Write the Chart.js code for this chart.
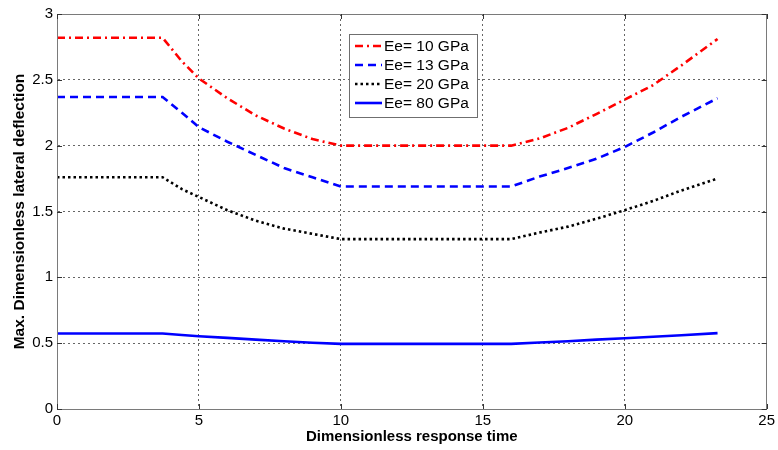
<!DOCTYPE html>
<html>
<head>
<meta charset="utf-8">
<script src="https://cdn.jsdelivr.net/npm/chart.js@4/dist/chart.umd.min.js"></script>
<style>
  html, body { margin: 0; padding: 0; background: #fff; }
  #wrap { width: 778px; height: 450px; }
</style>
</head>
<body>
<div id="wrap"><canvas id="c" width="778" height="450"></canvas></div>
<script>
// ---- data ----
const timeValues = [0, 3.72, 4.4, 5, 6, 7, 8, 9, 10, 16, 17, 18, 19, 20, 21, 22, 23.27];
const ee10 = [2.82, 2.82, 2.64, 2.51, 2.36, 2.23, 2.13, 2.05, 2.0, 2.0, 2.055, 2.135, 2.24, 2.35, 2.46, 2.61, 2.81];
const ee13 = [2.37, 2.37, 2.25, 2.14, 2.03, 1.93, 1.83, 1.76, 1.69, 1.69, 1.765, 1.83, 1.90, 1.99, 2.10, 2.22, 2.36];
const ee20 = [1.76, 1.76, 1.67, 1.61, 1.51, 1.43, 1.37, 1.33, 1.29, 1.29, 1.34, 1.385, 1.445, 1.51, 1.58, 1.66, 1.75];
const ee80 = [0.573, 0.573, 0.562, 0.553, 0.54, 0.527, 0.515, 0.503, 0.495, 0.495, 0.505, 0.515, 0.527, 0.537, 0.549, 0.56, 0.576];
const seriesLabels = ['Ee= 10 GPa', 'Ee= 13 GPa', 'Ee= 20 GPa', 'Ee= 80 GPa'];
const xTickLabels = ['0', '5', '10', '15', '20', '25'];
const yTickLabels = ['0', '0.5', '1', '1.5', '2', '2.5', '3'];
const xTitle = 'Dimensionless response time';
const yTitle = 'Max. Dimensionless lateral deflection';

const toPts = (ys) => timeValues.map((x, i) => ({ x: x, y: ys[i] }));

const FONT = 'Liberation Sans, Arial, Helvetica, sans-serif';

const styles = [
  { color: '#ff0000', dash: [8, 4, 2, 4] },
  { color: '#0000ff', dash: [8, 5] },
  { color: '#000000', dash: [2.5, 3] },
  { color: '#0000ff', dash: [] }
];
const seriesData = [ee10, ee13, ee20, ee80];

const datasets = seriesData.map((ys, i) => ({
  label: seriesLabels[i],
  data: toPts(ys),
  borderColor: styles[i].color,
  backgroundColor: styles[i].color,
  borderDash: styles[i].dash,
  borderWidth: 2.6,
  pointRadius: 0,
  showLine: true,
  tension: 0,
  fill: false
}));

// Box around the plot plus Matlab-like inward ticks, and the in-plot legend
const boxPlugin = {
  id: 'box',
  afterDatasetsDraw(chart) {
    const { ctx, chartArea: a, scales } = chart;
    ctx.save();
    ctx.strokeStyle = '#7a7a7a';
    ctx.lineWidth = 1;
    ctx.setLineDash([]);
    ctx.strokeRect(Math.round(a.left) + 0.5, Math.round(a.top) + 0.5,
                   Math.round(a.right - a.left) - 1, Math.round(a.bottom - a.top));
    ctx.strokeStyle = '#333';
    const tl = 5;
    scales.x.ticks.forEach(t => {
      const px = Math.round(scales.x.getPixelForValue(t.value)) + 0.5;
      ctx.beginPath();
      ctx.moveTo(px, a.bottom); ctx.lineTo(px, a.bottom - tl);
      ctx.moveTo(px, a.top); ctx.lineTo(px, a.top + tl);
      ctx.stroke();
    });
    scales.y.ticks.forEach(t => {
      const py = Math.round(scales.y.getPixelForValue(t.value)) + 0.5;
      ctx.beginPath();
      ctx.moveTo(a.left, py); ctx.lineTo(a.left + tl, py);
      ctx.moveTo(a.right, py); ctx.lineTo(a.right - tl, py);
      ctx.stroke();
    });
    ctx.restore();
  },
  afterDraw(chart) {
    const { ctx } = chart;
    const bx = 349, by = 34, bw = 128, bh = 83;
    ctx.save();
    ctx.fillStyle = '#fff';
    ctx.fillRect(bx, by, bw, bh);
    ctx.strokeStyle = '#6f6f6f';
    ctx.lineWidth = 1;
    ctx.setLineDash([]);
    ctx.strokeRect(bx + 0.5, by + 0.5, bw, bh);
    chart.data.datasets.forEach((ds, i) => {
      const y = by + 12 + i * 19;
      ctx.strokeStyle = ds.borderColor;
      ctx.lineWidth = 2.6;
      ctx.setLineDash(ds.borderDash || []);
      ctx.beginPath();
      ctx.moveTo(bx + 6, y);
      ctx.lineTo(bx + 33, y);
      ctx.stroke();
      ctx.setLineDash([]);
      ctx.fillStyle = '#000';
      ctx.font = '15.5px ' + FONT;
      ctx.textBaseline = 'middle';
      ctx.textAlign = 'left';
      ctx.fillText(ds.label, bx + 35, y + 1);
    });
    ctx.restore();
  }
};

new Chart(document.getElementById('c'), {
  type: 'scatter',
  data: { datasets: datasets },
  options: {
    responsive: false,
    animation: false,
    layout: { padding: { top: 14, right: 10, left: 0, bottom: 0 } },
    plugins: {
      legend: { display: false },
      tooltip: { enabled: false }
    },
    scales: {
      x: {
        type: 'linear',
        min: 0, max: 25,
        afterFit(s) { s.height = 41; },
        ticks: {
          stepSize: 5,
          color: '#000',
          padding: 3,
          font: { family: FONT, size: 15 },
          maxRotation: 0,
          callback: (v, i) => xTickLabels[i]
        },
        grid: { color: 'rgba(0,0,0,0.6)', lineWidth: 1, drawTicks: false },
        border: { display: true, color: '#7a7a7a', dash: [2, 3] },
        title: {
          display: true,
          text: xTitle,
          color: '#000',
          font: { family: FONT, size: 15, weight: 'bold' },
          padding: { top: 0, bottom: 4 }
        }
      },
      y: {
        type: 'linear',
        min: 0, max: 3,
        afterFit(s) { s.width = 57; },
        ticks: {
          stepSize: 0.5,
          color: '#000',
          padding: 4,
          font: { family: FONT, size: 15 },
          callback: (v, i) => yTickLabels[i]
        },
        grid: { color: 'rgba(0,0,0,0.6)', lineWidth: 1, drawTicks: false },
        border: { display: true, color: '#7a7a7a', dash: [2, 3] },
        title: {
          display: true,
          text: yTitle,
          color: '#000',
          font: { family: FONT, size: 15.5, weight: 'bold' },
          padding: { top: 10, bottom: 0 }
        }
      }
    }
  },
  plugins: [boxPlugin]
});
</script>
</body>
</html>
